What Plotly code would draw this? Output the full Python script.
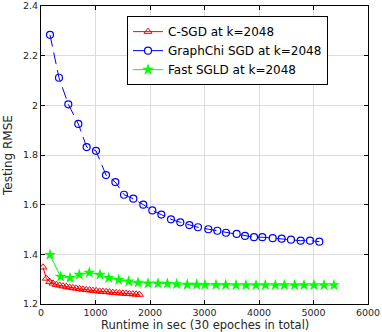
import plotly.graph_objects as go

csgd_x = [37, 98, 159, 220, 281, 342, 403, 464, 525, 586, 647, 708, 769, 830, 891,
          952, 1013, 1074, 1135, 1196, 1257, 1318, 1379, 1440, 1501, 1562, 1623, 1684, 1745, 1806]
csgd_y = [1.348, 1.303, 1.290, 1.283, 1.278, 1.275, 1.272, 1.270, 1.267, 1.265, 1.263, 1.261,
          1.259, 1.257, 1.256, 1.254, 1.253, 1.251, 1.250, 1.249, 1.248, 1.246, 1.245, 1.244,
          1.243, 1.242, 1.241, 1.240, 1.239, 1.238]

gchi_x = [165, 330, 501, 685, 838, 1009, 1193, 1364, 1523, 1694, 1877, 2043, 2208, 2385, 2556,
          2722, 2880, 3070, 3235, 3394, 3590, 3743, 3908, 4061, 4251, 4416, 4587, 4765, 4936, 5107]
gchi_y = [2.284, 2.111, 2.004, 1.925, 1.832, 1.817, 1.719, 1.691, 1.640, 1.624, 1.600, 1.577,
          1.560, 1.541, 1.529, 1.518, 1.509, 1.501, 1.495, 1.487, 1.482, 1.474, 1.469, 1.469,
          1.465, 1.463, 1.459, 1.455, 1.455, 1.451]

sgld_x = [165, 361, 532, 703, 886, 1083, 1242, 1425, 1609, 1780, 1963, 2146, 2318, 2489, 2684,
          2856, 3009, 3211, 3388, 3578, 3761, 3945, 4116, 4300, 4465, 4654, 4826, 5009, 5193, 5376]
sgld_y = [1.398, 1.310, 1.305, 1.318, 1.326, 1.318, 1.305, 1.297, 1.291, 1.286, 1.283, 1.283,
          1.282, 1.280, 1.278, 1.278, 1.277, 1.277, 1.277, 1.276, 1.276, 1.276, 1.276, 1.276,
          1.276, 1.276, 1.276, 1.276, 1.276, 1.276]

names = ["C-SGD at k=2048", "GraphChi SGD at k=2048", "Fast SGLD at k=2048"]
x_title = "Runtime in sec (30 epoches in total)"
y_title = "Testing RMSE"
x_ticks = [0, 1000, 2000, 3000, 4000, 5000, 6000]
y_ticks = [1.2, 1.4, 1.6, 1.8, 2.0, 2.2, 2.4]
y_ticktext = ["1.2", "1.4", "1.6", "1.8", "2", "2.2", "2.4"]

FONT = "DejaVu Sans"

fig = go.Figure()
fig.add_trace(go.Scatter(x=csgd_x, y=csgd_y, mode="lines+markers", name=names[0],
                         line=dict(color="#ff0000", width=1),
                         marker=dict(symbol="triangle-up-open", size=7, color="#ff0000",
                                     line=dict(width=1))))
fig.add_trace(go.Scatter(x=gchi_x, y=gchi_y, mode="lines+markers", name=names[1],
                         line=dict(color="#0000ff", width=1, dash="12px,6px"),
                         marker=dict(symbol="circle-open", size=7, color="#0000ff",
                                     line=dict(width=1.2))))
fig.add_trace(go.Scatter(x=sgld_x, y=sgld_y, mode="lines+markers", name=names[2],
                         line=dict(color="#00ff00", width=1),
                         marker=dict(symbol="star", size=9, color="#00ff00",
                                     line=dict(width=0))))

axis_common = dict(showline=True, linecolor="black", linewidth=1, mirror="ticks",
                   ticks="inside", ticklen=4, tickcolor="black", automargin=False,
                   showgrid=True, gridcolor="#dcdcdc", gridwidth=1, zeroline=False,
                   tickfont=dict(family=FONT, size=9.5, color="#262626"))

fig.update_xaxes(range=[0, 6000], tickvals=x_ticks, ticklabelstandoff=0, **axis_common)
fig.update_yaxes(range=[1.2, 2.4], tickvals=y_ticks, ticktext=y_ticktext, **axis_common)

fig.add_annotation(text=x_title, xref="paper", yref="paper", x=0.5, y=-0.071,
                   xanchor="center", yanchor="middle", showarrow=False,
                   font=dict(family=FONT, size=11.5, color="#262626"))
fig.add_annotation(text=y_title, xref="paper", yref="paper", x=-0.101, y=0.5,
                   xanchor="center", yanchor="middle", showarrow=False, textangle=-90,
                   font=dict(family=FONT, size=12, color="#262626"))

fig.update_layout(
    width=382, height=332,
    margin=dict(l=41, r=14, t=6, b=28, autoexpand=False),
    plot_bgcolor="white", paper_bgcolor="white",
    showlegend=True,
    legend=dict(x=0.263, y=0.966, xanchor="left", yanchor="top",
                bgcolor="white", bordercolor="black", borderwidth=1,
                font=dict(family=FONT, size=12, color="black"),
                tracegroupgap=0, itemwidth=30),
)

fig.write_html("out.html", config={"displayModeBar": False},
               post_script="document.body.style.margin='0';document.body.style.padding='0';document.body.style.overflow='hidden';")
